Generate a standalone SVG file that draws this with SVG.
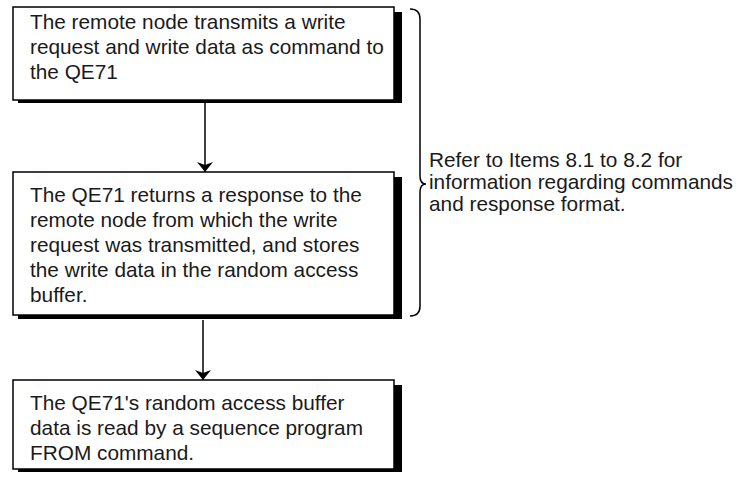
<svg xmlns="http://www.w3.org/2000/svg" width="750" height="477" viewBox="0 0 750 477">
<style>
.box{fill:#fff;stroke:#000;stroke-width:1.5}
.sh{fill:#000}
.t{font-family:"Liberation Sans",Arial,sans-serif;font-size:20.8px;fill:#1a1a1a}
.c{stroke:#000;stroke-width:1.5;fill:none}
</style>
<defs>
<marker id="ah" viewBox="0 0 10 16" refX="10" refY="8" markerWidth="10" markerHeight="16" markerUnits="userSpaceOnUse" orient="auto">
<path d="M0,0 L10,8 L0,16 L3,8 Z" fill="#000"/>
</marker>
</defs>
<g id="connectors">
<line class="c" x1="205" y1="103" x2="205" y2="172" marker-end="url(#ah)"/>
<line class="c" x1="203" y1="320" x2="203" y2="380" marker-end="url(#ah)"/>
</g>
<g id="n1">
<rect class="sh" x="18" y="12" width="384" height="91"/>
<rect class="box" x="13" y="7" width="381" height="93"/>
<text class="t" x="30" y="29">The remote node transmits a write</text>
<text class="t" x="30" y="54">request and write data as command to</text>
<text class="t" x="30" y="79">the QE71</text>
</g>
<g id="n2">
<rect class="sh" x="18" y="177" width="384" height="142"/>
<rect class="box" x="13" y="172" width="381" height="143"/>
<text class="t" x="30" y="202">The QE71 returns a response to the</text>
<text class="t" x="30" y="227">remote node from which the write</text>
<text class="t" x="30" y="252">request was transmitted, and stores</text>
<text class="t" x="30" y="277">the write data in the random access</text>
<text class="t" x="30" y="302">buffer.</text>
</g>
<g id="n3">
<rect class="sh" x="18" y="385" width="384" height="87"/>
<rect class="box" x="13" y="380" width="381" height="89"/>
<text class="t" x="30" y="410">The QE71's random access buffer</text>
<text class="t" x="30" y="435">data is read by a sequence program</text>
<text class="t" x="30" y="460">FROM command.</text>
</g>
<g id="note">
<path class="c" d="M410,9 Q420,9 420,19 L420,176 Q420,184 426,184 Q420,184 420,192 L420,306 Q420,316 410,316"/>
<text class="t" x="429" y="167">Refer to Items 8.1 to 8.2 for</text>
<text class="t" x="429" y="189">information regarding commands</text>
<text class="t" x="429" y="211">and response format.</text>
</g>
</svg>
